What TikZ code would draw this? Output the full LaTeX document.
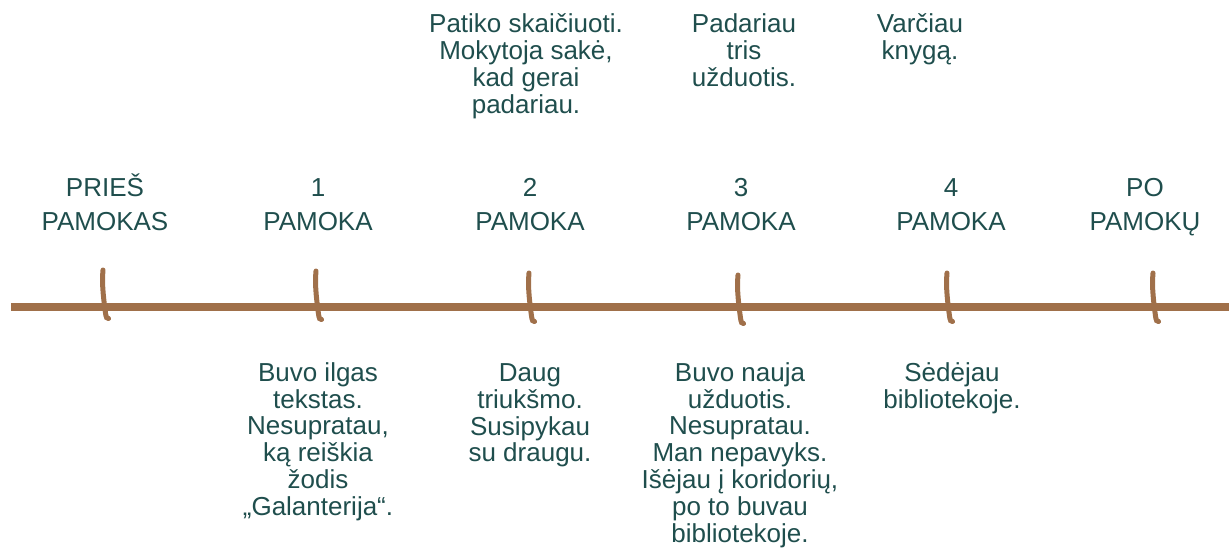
\documentclass[tikz,border=0pt]{standalone}
\usepackage{fontspec}
\setmainfont{Liberation Sans}
\definecolor{txt}{HTML}{1F4E4D}
\definecolor{brn}{HTML}{A0704A}
\newcommand{\mlines}[2]{{\fontsize{26}{#1}\selectfont\begin{tabular}[t]{@{}c@{}}#2\end{tabular}}}
\tikzset{
  lab/.style={inner sep=0pt, anchor=base, text=txt},
  tickmark/.pic={\draw[brn, line width=5pt, line cap=round]
    (0,0) .. controls (-1.5,14) and (1,32) .. (2.5,43)
          .. controls (3,47) and (4,49.5) .. (5.5,48.5);}
}
\begin{document}
\begin{tikzpicture}[x=1pt,y=-1pt]
\useasboundingbox (0,0) rectangle (1229,559);
% timeline
\coordinate (ls) at (11,307);
\coordinate (le) at (1229,307);
\draw[brn, line width=7.5pt] (ls) -- (le);
% ticks
\pic at (103,270) {tickmark};
\pic at (316,271) {tickmark};
\pic at (529,273) {tickmark};
\pic at (738,275) {tickmark};
\pic at (947,273) {tickmark};
\pic at (1153,273) {tickmark};
% labels
\node[lab] (l0) at (105,196) {\mlines{35}{PRIEŠ\\PAMOKAS}};
\node[lab] (l1) at (318,196) {\mlines{35}{1\\PAMOKA}};
\node[lab] (l2) at (530,196) {\mlines{35}{2\\PAMOKA}};
\node[lab] (l3) at (741,196) {\mlines{35}{3\\PAMOKA}};
\node[lab] (l4) at (951,196) {\mlines{35}{4\\PAMOKA}};
\node[lab] (l5) at (1145,196) {\mlines{35}{PO\\PAMOKŲ}};
% top notes
\node[lab] (t2) at (526,33) {\mlines{26.5}{Patiko skaičiuoti.\\Mokytoja sakė,\\kad gerai\\padariau.}};
\node[lab] (t3) at (744,33) {\mlines{26.5}{Padariau\\tris\\užduotis.}};
\node[lab] (t4) at (920,33) {\mlines{26.5}{Varčiau\\knygą.}};
% bottom notes
\node[lab] (b1) at (318,381.5) {\mlines{26.5}{Buvo ilgas\\tekstas.\\Nesupratau,\\ką reiškia\\žodis\\„Galanterija“.}};
\node[lab] (b2) at (530,381.5) {\mlines{26.5}{Daug\\triukšmo.\\Susipykau\\su draugu.}};
\node[lab] (b3) at (740,381.5) {\mlines{26.5}{Buvo nauja\\užduotis.\\Nesupratau.\\Man nepavyks.\\Išėjau į koridorių,\\po to buvau\\bibliotekoje.}};
\node[lab] (b4) at (952,381.5) {\mlines{26.5}{Sėdėjau\\bibliotekoje.}};
\end{tikzpicture}
\end{document}
